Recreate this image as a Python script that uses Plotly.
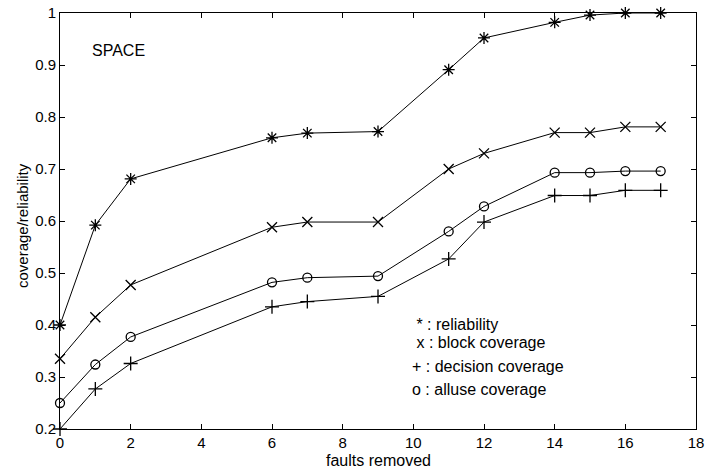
import plotly.graph_objects as go

faults = [0, 1, 2, 6, 7, 9, 11, 12, 14, 15, 16, 17]
reliability = [0.40, 0.592, 0.681, 0.760, 0.769, 0.772, 0.891, 0.952, 0.982, 0.996, 1.0, 1.0]
block_cov = [0.335, 0.415, 0.477, 0.588, 0.598, 0.598, 0.700, 0.730, 0.770, 0.770, 0.781, 0.781]
decision_cov = [0.200, 0.277, 0.326, 0.435, 0.445, 0.455, 0.527, 0.598, 0.649, 0.649, 0.659, 0.659]
alluse_cov = [0.250, 0.324, 0.377, 0.482, 0.491, 0.494, 0.580, 0.628, 0.693, 0.693, 0.696, 0.696]

series = [
    ("reliability", reliability, "asterisk-open", 10),
    ("block coverage", block_cov, "x-thin-open", 10),
    ("decision coverage", decision_cov, "cross-thin-open", 10),
    ("alluse coverage", alluse_cov, "circle-open", 9),
]

legend_lines = ["&nbsp;* : reliability", "&nbsp;x : block coverage", "+ : decision coverage", "o : alluse coverage"]
legend_y = [0.401, 0.366, 0.320, 0.276]

x_ticks = list(range(0, 19, 2))
y_ticks = [0.2, 0.3, 0.4, 0.5, 0.6, 0.7, 0.8, 0.9, 1.0]
y_ticktext = ["0.2", "0.3", "0.4", "0.5", "0.6", "0.7", "0.8", "0.9", "1"]

FONT = "Liberation Sans, Arial"

fig = go.Figure()
for name, vals, sym, sz in series:
    fig.add_trace(go.Scatter(
        x=faults, y=vals, mode="lines+markers", name=name,
        line=dict(color="black", width=1),
        marker=dict(symbol=sym, size=sz, color="black", line=dict(color="black", width=1.3)),
        showlegend=False, cliponaxis=False, hoverinfo="skip",
    ))

for txt, yy in zip(legend_lines, legend_y):
    fig.add_annotation(x=9.9, y=yy, xref="x", yref="y", text=txt,
                       showarrow=False, xanchor="left", yanchor="middle",
                       font=dict(family=FONT, size=16, color="black"))

fig.add_annotation(x=0.047, y=0.91, xref="paper", yref="paper", text="SPACE", showarrow=False,
                   xanchor="left", yanchor="middle",
                   font=dict(family=FONT, size=16, color="black"))

# axis titles
fig.add_annotation(x=0.5, y=-0.075, xref="paper", yref="paper", text="faults removed",
                   showarrow=False, xanchor="center", yanchor="middle",
                   font=dict(family=FONT, size=16, color="black"))
fig.add_annotation(x=-0.06, y=0.49, xref="paper", yref="paper", text="coverage/reliability",
                   showarrow=False, xanchor="center", yanchor="middle", textangle=-90,
                   font=dict(family=FONT, size=15, color="black"))

axis_common = dict(showline=True, linecolor="black", linewidth=1, mirror="ticks",
                   ticks="inside", ticklen=5, tickcolor="black", showgrid=False, zeroline=False,
                   ticklabeloverflow="allow", automargin=False,
                   tickfont=dict(family=FONT, size=15, color="black"))

fig.update_xaxes(range=[0, 18], tickvals=x_ticks, **axis_common)
fig.update_yaxes(range=[0.2, 1.0], tickvals=y_ticks, ticktext=y_ticktext, **axis_common)

fig.update_layout(width=705, height=468, margin=dict(l=60, r=9, t=13, b=39, autoexpand=False),
                  plot_bgcolor="white", paper_bgcolor="white", hovermode=False,
                  font=dict(family=FONT, color="black"))

fig.write_html("out.html", config={"displayModeBar": False},
               post_script="document.body.style.margin='0px';document.body.style.padding='0px';"
                           "document.documentElement.style.overflow='hidden';")
